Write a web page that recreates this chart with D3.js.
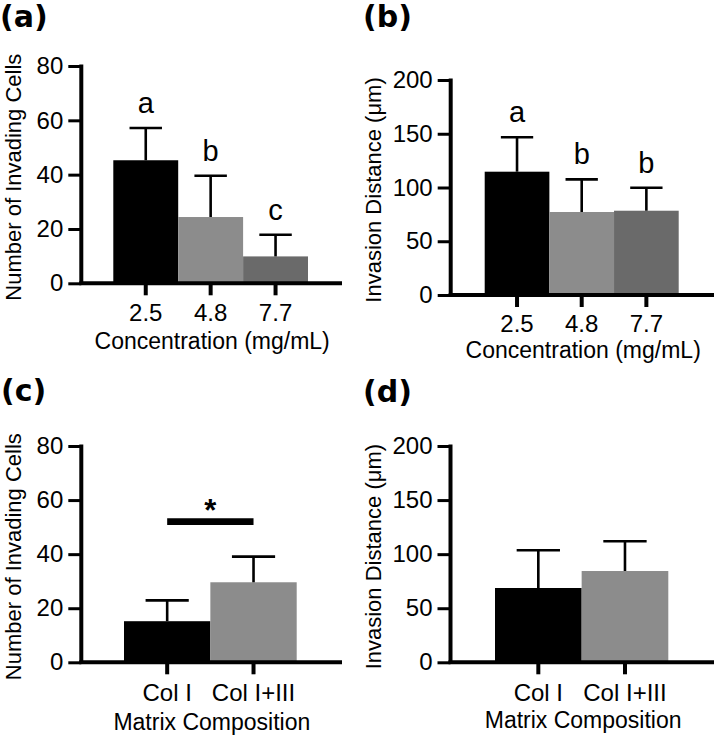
<!DOCTYPE html>
<html>
<head>
<meta charset="utf-8">
<script src="https://cdn.jsdelivr.net/npm/d3@7"></script>
<style>
  html, body { margin: 0; padding: 0; background: #fff; }
  svg { display: block; }
  text { font-family: "Liberation Sans", Arial, Helvetica, sans-serif; fill: #000; }
</style>
</head>
<body>
<svg id="chart" width="714" height="738"></svg>
<script>
// ---------------- data ----------------
const concCategories = ["2.5", "4.8", "7.7"];
const matrixCategories = ["Col I", "Col I+III"];

const cellsByConcMean = [45.3, 24.4, 9.9];
const cellsByConcSD   = [11.9, 15.2, 8.0];
const distByConcMean  = [114.7, 77.2, 78.4];
const distByConcSD    = [32.0, 30.4, 21.4];

const cellsByMatrixMean = [15.2, 29.6];
const cellsByMatrixSD   = [7.7, 9.5];
const distByMatrixMean  = [68.7, 84.4];
const distByMatrixSD    = [34.9, 27.5];

const lettersCellsConc = ["a", "b", "c"];
const lettersDistConc  = ["a", "b", "b"];

const cellsTicks = [0, 20, 40, 60, 80];
const distTicks  = [0, 50, 100, 150, 200];

const sigBarLevel = 52;   // in "Number of Invading Cells" units
const sigLabel = "*";

const concColors = ["#000000", "#8c8c8c", "#6a6a6a"];
const matrixColors = ["#000000", "#8c8c8c"];

// ---------------- layout ----------------
const panels = [
  { label: "(a)", lx: 0, ly: 27,
    cats: concCategories, mean: cellsByConcMean, sd: cellsByConcSD, colors: concColors,
    letters: lettersCellsConc, ticks: cellsTicks, yMax: 80,
    ax: 81.3, y0: 283.3, yTop: 66, xEnd: 342, bandL: 113.3, bandR: 308,
    yTitle: "Number of Invading Cells", yTitleX: 21,
    xTitle: "Concentration (mg/mL)", tickLabelDy: 38, xTitleY: 349 },
  { label: "(b)", lx: 363, ly: 27,
    cats: concCategories, mean: distByConcMean, sd: distByConcSD, colors: concColors,
    letters: lettersDistConc, ticks: distTicks, yMax: 200,
    ax: 450.7, y0: 295, yTop: 80, xEnd: 714, bandL: 484.7, bandR: 678.7,
    yTitle: "Invasion Distance (\u03bcm)", yTitleX: 381,
    xTitle: "Concentration (mg/mL)", tickLabelDy: 37, xTitleY: 358 },
  { label: "(c)", lx: 1, ly: 401,
    cats: matrixCategories, mean: cellsByMatrixMean, sd: cellsByMatrixSD, colors: matrixColors,
    letters: null, ticks: cellsTicks, yMax: 80, sig: true,
    ax: 81.3, y0: 662.3, yTop: 446, xEnd: 342, bandL: 124, bandR: 296.7,
    yTitle: "Number of Invading Cells", yTitleX: 21,
    xTitle: "Matrix Composition", tickLabelDy: 38.5, xTitleY: 730 },
  { label: "(d)", lx: 363, ly: 402,
    cats: matrixCategories, mean: distByMatrixMean, sd: distByMatrixSD, colors: matrixColors,
    letters: null, ticks: distTicks, yMax: 200,
    ax: 450.5, y0: 662.3, yTop: 446, xEnd: 714, bandL: 495, bandR: 668.3,
    yTitle: "Invasion Distance (\u03bcm)", yTitleX: 381,
    xTitle: "Matrix Composition", tickLabelDy: 39, xTitleY: 728 }
];

const svg = d3.select("#chart");
svg.append("rect").attr("width", 714).attr("height", 738).attr("fill", "#fff");

panels.forEach(p => {
  const g = svg.append("g");
  const y = d3.scaleLinear().domain([0, p.yMax]).range([p.y0, p.yTop]);
  const x = d3.scaleBand().domain(p.cats).range([p.bandL, p.bandR]).padding(0);
  const bw = x.bandwidth();

  // bars
  g.selectAll("rect.bar").data(p.cats).enter().append("rect")
    .attr("class", "bar")
    .attr("x", d => x(d))
    .attr("width", bw)
    .attr("y", (d, i) => y(p.mean[i]))
    .attr("height", (d, i) => y(0) - y(p.mean[i]))
    .attr("fill", (d, i) => p.colors[i]);

  // error bars (upper only)
  const eb = g.selectAll("g.err").data(p.cats).enter().append("g").attr("class", "err");
  eb.append("line")
    .attr("x1", d => x(d) + bw / 2).attr("x2", d => x(d) + bw / 2)
    .attr("y1", (d, i) => y(p.mean[i])).attr("y2", (d, i) => y(p.mean[i] + p.sd[i]))
    .attr("stroke", "#000").attr("stroke-width", 2.6);
  eb.append("line")
    .attr("x1", d => x(d) + bw / 4).attr("x2", d => x(d) + bw * 3 / 4)
    .attr("y1", (d, i) => y(p.mean[i] + p.sd[i])).attr("y2", (d, i) => y(p.mean[i] + p.sd[i]))
    .attr("stroke", "#000").attr("stroke-width", 2.6);

  // letters
  if (p.letters) {
    g.selectAll("text.letter").data(p.cats).enter().append("text")
      .attr("class", "letter")
      .attr("x", d => x(d) + bw / 2)
      .attr("y", (d, i) => y(p.mean[i] + p.sd[i]) - 15)
      .attr("text-anchor", "middle")
      .style("font-size", "29px")
      .text((d, i) => p.letters[i]);
  }

  // significance bar
  if (p.sig) {
    const xa = x(p.cats[0]) + bw / 2, xb = x(p.cats[1]) + bw / 2;
    g.append("line")
      .attr("x1", xa).attr("x2", xb)
      .attr("y1", y(sigBarLevel)).attr("y2", y(sigBarLevel))
      .attr("stroke", "#000").attr("stroke-width", 6.7);
    g.append("text")
      .attr("x", (xa + xb) / 2)
      .attr("y", y(sigBarLevel) - 1)
      .attr("text-anchor", "middle")
      .style("font-size", "31px").style("font-weight", "bold")
      .text(sigLabel);
  }

  // y axis
  const yAxis = d3.axisLeft(y).tickValues(p.ticks).tickSize(13).tickSizeOuter(0).tickPadding(5);
  const yg = g.append("g").attr("transform", `translate(${p.ax},0)`).call(yAxis);
  yg.select(".domain").attr("stroke", "#000").attr("stroke-width", 4)
    .attr("d", `M0,${p.yTop - 1.5}V${p.y0}`);
  yg.selectAll(".tick line").attr("stroke", "#000").attr("stroke-width", 3);
  yg.selectAll(".tick text").style("font-size", "24px").attr("fill", "#000");

  // x axis
  const xAxis = d3.axisBottom(x).tickSize(12).tickSizeOuter(0);
  const xg = g.append("g").attr("transform", `translate(0,${p.y0})`).call(xAxis);
  xg.select(".domain").remove();
  xg.selectAll(".tick line").attr("stroke", "#000").attr("stroke-width", 4);
  xg.selectAll(".tick text").style("font-size", "24px").attr("fill", "#000")
    .attr("y", p.tickLabelDy).attr("dy", "0");
  g.append("line")
    .attr("x1", p.ax - 2).attr("x2", p.xEnd)
    .attr("y1", p.y0).attr("y2", p.y0)
    .attr("stroke", "#000").attr("stroke-width", 4);

  // axis titles
  g.append("text")
    .attr("transform", `translate(${p.yTitleX},${(p.y0 + p.yTop) / 2 + 2.5}) rotate(-90)`)
    .attr("text-anchor", "middle")
    .style("font-size", "22px")
    .text(p.yTitle);
  g.append("text")
    .attr("x", (x.range()[0] + x.range()[1]) / 2 + 1.5)
    .attr("y", p.xTitleY)
    .attr("text-anchor", "middle")
    .style("font-size", "23px")
    .text(p.xTitle);

  // panel label
  g.append("text")
    .attr("x", p.lx).attr("y", p.ly)
    .style("font-family", "'DejaVu Sans', 'Liberation Sans', Arial, sans-serif")
    .style("font-size", "30px").style("font-weight", "bold")
    .text(p.label);
});
</script>
</body>
</html>
